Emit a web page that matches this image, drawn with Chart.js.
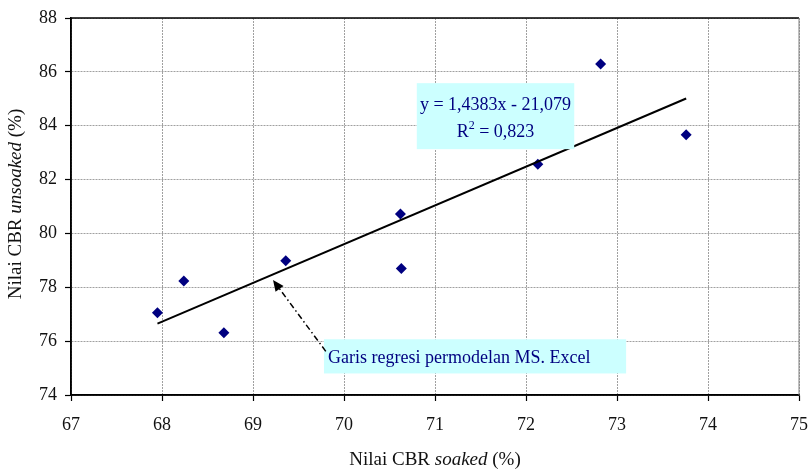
<!DOCTYPE html>
<html>
<head>
<meta charset="utf-8">
<script src="https://cdn.jsdelivr.net/npm/chart.js@4.4.1/dist/chart.umd.min.js"></script>
<style>
  html, body { margin: 0; padding: 0; background: #fff; }
  #wrap { width: 809px; height: 469px; position: relative; }
</style>
</head>
<body>
<div id="wrap"><canvas id="cbrChart"></canvas></div>
<script>
// data
const soakedCBR   = [67.95, 68.24, 68.68, 69.36, 70.63, 70.62, 72.13, 72.82, 73.76];
const unsoakedCBR = [77.05, 78.23, 76.31, 78.99, 78.70, 80.72, 82.57, 86.29, 83.66];

// trendline end points (Excel linear fit)
const trendX = [67.95, 73.76];
const trendY = [76.65, 85.01];

const xTicks = [67, 68, 69, 70, 71, 72, 73, 74, 75];
const yTicks = [74, 76, 78, 80, 82, 84, 86, 88];

const equationText = 'y = 1,4383x - 21,079';
const rSquaredText = '0,823';
const noteText = 'Garis regresi permodelan MS. Excel';

const SERIF = '"Liberation Serif", "Times New Roman", serif';
const NAVY = '#000080';

const drawMixed = (ctx, parts, x, y, size) => {
  let total = 0;
  parts.forEach(p => {
    ctx.font = (p.i ? 'italic ' : '') + size + 'px ' + SERIF;
    total += ctx.measureText(p.t).width;
  });
  let cx = x - total / 2;
  parts.forEach(p => {
    ctx.font = (p.i ? 'italic ' : '') + size + 'px ' + SERIF;
    ctx.fillText(p.t, cx, y);
    cx += ctx.measureText(p.t).width;
  });
}

const extrasPlugin = {
  id: 'extras',
  afterDraw(chart) {
    const ctx = chart.ctx;
    const xs = chart.scales.x, ys = chart.scales.y;
    const area = chart.chartArea;
    ctx.save();

    // frame: top black, right grey, left/bottom black
    ctx.lineWidth = 1.5;
    ctx.strokeStyle = '#000';
    ctx.beginPath();
    ctx.moveTo(area.left, area.top);
    ctx.lineTo(area.right, area.top);
    ctx.moveTo(area.left, area.top);
    ctx.lineTo(area.left, area.bottom);
    ctx.lineTo(area.right, area.bottom);
    ctx.stroke();
    ctx.lineWidth = 1;
    ctx.strokeStyle = '#808080';
    ctx.beginPath();
    ctx.moveTo(area.right, area.top);
    ctx.lineTo(area.right, area.bottom);
    ctx.stroke();

    // equation box
    const ex1 = xs.getPixelForValue(70.80), ex2 = xs.getPixelForValue(72.53);
    const ey1 = ys.getPixelForValue(85.58), ey2 = ys.getPixelForValue(83.13);
    ctx.fillStyle = '#ccffff';
    ctx.fillRect(ex1, ey1, ex2 - ex1, ey2 - ey1);
    ctx.fillStyle = NAVY;
    ctx.textBaseline = 'alphabetic';
    ctx.textAlign = 'left';
    const ecx = (ex1 + ex2) / 2;
    ctx.font = '18px ' + SERIF;
    let w = ctx.measureText(equationText).width;
    ctx.fillText(equationText, ecx - w / 2, ey1 + 27);
    // R² line
    ctx.font = '18px ' + SERIF;
    const wR = ctx.measureText('R').width;
    ctx.font = '12px ' + SERIF;
    const w2 = ctx.measureText('2').width;
    ctx.font = '18px ' + SERIF;
    const rest = ' = ' + rSquaredText;
    const wRest = ctx.measureText(rest).width;
    let rx = ecx - (wR + w2 + wRest) / 2;
    const ry = ey1 + 54;
    ctx.fillText('R', rx, ry);
    ctx.font = '12px ' + SERIF;
    ctx.fillText('2', rx + wR, ry - 8);
    ctx.font = '18px ' + SERIF;
    ctx.fillText(rest, rx + wR + w2, ry);

    // note box
    const nx1 = xs.getPixelForValue(69.78), nx2 = xs.getPixelForValue(73.10);
    const ny1 = ys.getPixelForValue(76.07), ny2 = ys.getPixelForValue(74.80);
    ctx.fillStyle = '#ccffff';
    ctx.fillRect(nx1, ny1, nx2 - nx1, ny2 - ny1);
    ctx.fillStyle = NAVY;
    ctx.font = '18px ' + SERIF;
    ctx.fillText(noteText, nx1 + 4, ny1 + 24);

    // dash-dot arrow
    const ax1 = xs.getPixelForValue(69.80), ay1 = ys.getPixelForValue(75.62);
    const ax2 = xs.getPixelForValue(69.22), ay2 = ys.getPixelForValue(78.27);
    const ang = Math.atan2(ay2 - ay1, ax2 - ax1);
    ctx.strokeStyle = '#000';
    ctx.lineWidth = 1.5;
    ctx.setLineDash([6, 3, 1.5, 3]);
    ctx.beginPath();
    ctx.moveTo(ax1, ay1);
    ctx.lineTo(ax2 - 9 * Math.cos(ang), ay2 - 9 * Math.sin(ang));
    ctx.stroke();
    ctx.setLineDash([]);
    ctx.fillStyle = '#000';
    ctx.beginPath();
    ctx.moveTo(ax2, ay2);
    ctx.lineTo(ax2 - 11 * Math.cos(ang) + 5 * Math.sin(ang), ay2 - 11 * Math.sin(ang) - 5 * Math.cos(ang));
    ctx.lineTo(ax2 - 11 * Math.cos(ang) - 5 * Math.sin(ang), ay2 - 11 * Math.sin(ang) + 5 * Math.cos(ang));
    ctx.closePath();
    ctx.fill();

    // axis titles
    ctx.fillStyle = '#111';
    ctx.textBaseline = 'middle';
    drawMixed(ctx, [{t: 'Nilai CBR '}, {t: 'soaked', i: true}, {t: ' (%)'}],
      (area.left + area.right) / 2, 460, 19);
    ctx.save();
    ctx.translate(16, 204);
    ctx.rotate(-Math.PI / 2);
    drawMixed(ctx, [{t: 'Nilai CBR '}, {t: 'unsoaked', i: true}, {t: ' (%)'}], 0, 0, 19);
    ctx.restore();

    ctx.restore();
  }
}

const ctx = document.getElementById('cbrChart').getContext('2d');
const cbrChart = new Chart(ctx, {
  type: 'scatter',
  data: {
    datasets: [{
      label: 'CBR',
      data: soakedCBR.map((x, i) => ({x, y: unsoakedCBR[i]})),
      pointStyle: 'rectRot',
      pointRadius: 5.5,
      pointHoverRadius: 5.5,
      pointBackgroundColor: NAVY,
      pointBorderWidth: 0,
      showLine: false,
      order: 1
    }, {
      label: 'Trend',
      data: trendX.map((x, i) => ({x, y: trendY[i]})),
      showLine: true,
      borderColor: '#000',
      borderWidth: 2,
      pointRadius: 0,
      order: 0
    }]
  },
  options: {
    responsive: true,
    maintainAspectRatio: false,
    animation: false,
    layout: { padding: { top: 18, right: 10, left: 0, bottom: 0 } },
    plugins: { legend: { display: false }, tooltip: { enabled: false } },
    scales: {
      x: {
        type: 'linear',
        min: 67, max: 75,
        afterFit: s => { s.height = 74; s.paddingLeft = 0; s.paddingRight = 0; },
        afterBuildTicks: s => { s.ticks = xTicks.map(v => ({value: v})); },
        ticks: { color: '#111', font: { family: SERIF, size: 18 }, padding: 13 },
        grid: { color: '#a0a0a0', lineWidth: 1, tickColor: '#000', tickLength: 6, tickWidth: 1.2 },
        border: { color: '#000', width: 1.5, dash: [2, 1] }
      },
      y: {
        type: 'linear',
        min: 74, max: 88,
        afterFit: s => { s.width = 71; s.paddingTop = 0; s.paddingBottom = 0; },
        afterBuildTicks: s => { s.ticks = yTicks.map(v => ({value: v})); },
        ticks: { color: '#111', font: { family: SERIF, size: 18 }, padding: 8 },
        grid: { color: '#a0a0a0', lineWidth: 1, tickColor: '#000', tickLength: 6, tickWidth: 1.2 },
        border: { color: '#000', width: 1.5, dash: [2, 1] }
      }
    }
  },
  plugins: [extrasPlugin]
});
</script>
</body>
</html>
